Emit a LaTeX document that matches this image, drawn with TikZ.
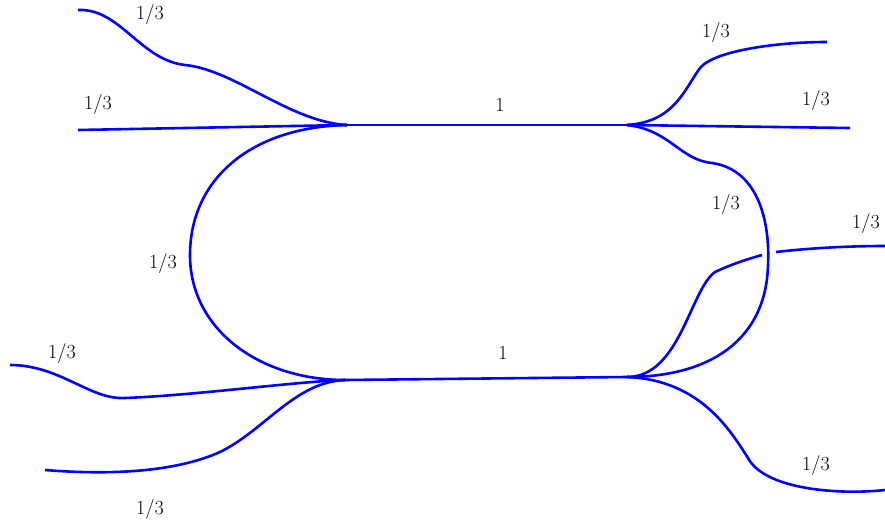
\documentclass[tikz,border=0pt]{standalone}
\begin{document}
\begin{tikzpicture}[x=1pt,y=-1pt,
  edge/.style={draw=blue,line width=2.6pt},
  lab/.style={font=\fontsize{20}{24}\selectfont,inner sep=1pt}]
\useasboundingbox (0,0) rectangle (885,521);
% vertices
\coordinate (A) at (347,125);
\coordinate (B) at (627,125);
\coordinate (C) at (345,380);
\coordinate (D) at (627,377);
% leg ends
\coordinate (a1) at (78,130);
\coordinate (a2) at (78,10);
\coordinate (b1) at (827,42);
\coordinate (b2) at (850,128);
\coordinate (c1) at (10,365);
\coordinate (c2) at (45,470);
\coordinate (d1a) at (762,255);
\coordinate (d1b) at (776,252);
\coordinate (d1) at (885,246);
\coordinate (d2) at (885,490);
% internal edges
\draw[edge] (A) -- (B);
\draw[edge] (C) -- (D);
\draw[edge] (A) .. controls (250,127) and (190,180) .. (190,255)
               .. controls (190,330) and (260,380) .. (C);
\draw[edge] (B) .. controls (670,130) and (680,160) .. (712,163)
               .. controls (760,170) and (770,225) .. (768,265)
               .. controls (766,340) and (710,377) .. (D);
% external legs
\draw[edge] (A) -- (a1);
\draw[edge] (A) .. controls (290,122) and (235,70) .. (185,65)
               .. controls (140,60) and (120,8) .. (a2);
\draw[edge] (B) .. controls (675,122) and (685,88) .. (700,68)
               .. controls (715,50) and (780,42) .. (b1);
\draw[edge] (B) -- (b2);
\draw[edge] (C) .. controls (290,382) and (200,395) .. (125,398)
               .. controls (90,400) and (60,365) .. (c1);
\draw[edge] (C) .. controls (295,382) and (265,430) .. (220,452)
               .. controls (180,470) and (120,476) .. (c2);
\draw[edge] (D) .. controls (680,377) and (690,290) .. (715,272)
               .. controls (732,264) and (748,259) .. (d1a);
\draw[edge] (d1b) .. controls (820,247) and (860,246) .. (d1);
\draw[edge] (D) .. controls (700,380) and (730,430) .. (748,458)
               .. controls (765,490) and (840,495) .. (d2);
% labels
\node[lab] (lAB) at (500,105) {1};
\node[lab] (lCD) at (503,353) {1};
\node[lab] (lAC) at (163,263) {1/3};
\node[lab] (lBD) at (726,205) {1/3};
\node[lab] (la1) at (98,105) {1/3};
\node[lab] (la2) at (150,15) {1/3};
\node[lab] (lb1) at (716,33) {1/3};
\node[lab] (lb2) at (816,101) {1/3};
\node[lab] (ld1) at (866,224) {1/3};
\node[lab] (ld2) at (816,465) {1/3};
\node[lab] (lc1) at (62,353) {1/3};
\node[lab] (lc2) at (150,509) {1/3};
\end{tikzpicture}
\end{document}
